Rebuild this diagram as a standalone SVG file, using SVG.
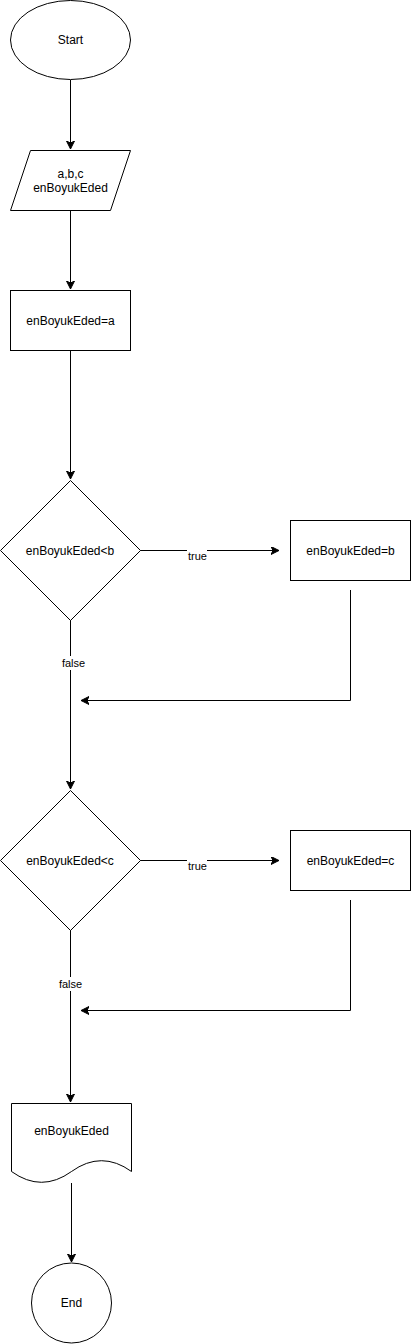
<svg xmlns="http://www.w3.org/2000/svg" width="411" height="1344" viewBox="0 0 411 1344">
<style>
.s{fill:#fff;stroke:#000;stroke-width:1}
.t{font-family:"Liberation Sans",Arial,sans-serif;font-size:12px;fill:#000;text-anchor:middle}
.l{font-family:"Liberation Sans",Arial,sans-serif;font-size:11px;fill:#000;text-anchor:middle}
.c{fill:none;stroke:#000;stroke-width:1}
</style>
<defs>
<marker id="a" markerUnits="userSpaceOnUse" markerWidth="10" markerHeight="10" refX="8" refY="4" orient="auto">
<path d="M0,0 L8,4 L0,8 L2,4 Z" fill="#000" stroke="#000" stroke-width="1"/>
</marker>
</defs>
<rect width="411" height="1344" fill="#fff"/>
<g id="connectors">
<line class="c" x1="70.5" y1="80" x2="70.5" y2="149" marker-end="url(#a)"/>
<line class="c" x1="70.5" y1="210" x2="70.5" y2="289" marker-end="url(#a)"/>
<line class="c" x1="70.5" y1="350" x2="70.5" y2="479" marker-end="url(#a)"/>
<line class="c" x1="140" y1="550.5" x2="279" y2="550.5" marker-end="url(#a)"/>
<polyline class="c" points="350.5,590 350.5,700.5 81,700.5" marker-end="url(#a)"/>
<line class="c" x1="70.5" y1="620" x2="70.5" y2="789" marker-end="url(#a)"/>
<line class="c" x1="140" y1="860.5" x2="279" y2="860.5" marker-end="url(#a)"/>
<polyline class="c" points="350.5,900 350.5,1010.5 81,1010.5" marker-end="url(#a)"/>
<line class="c" x1="70.5" y1="930" x2="70.5" y2="1102" marker-end="url(#a)"/>
<line class="c" x1="71.5" y1="1183" x2="71.5" y2="1262" marker-end="url(#a)"/>
<rect x="187" y="548" width="20" height="14" fill="#fff"/>
<text class="l" x="197.5" y="560">true</text>
<rect x="62" y="656" width="23" height="14" fill="#fff"/>
<text class="l" x="73.5" y="667">false</text>
<rect x="187" y="858" width="20" height="14" fill="#fff"/>
<text class="l" x="197.5" y="870">true</text>
<rect x="59" y="977" width="23" height="14" fill="#fff"/>
<text class="l" x="70.5" y="988">false</text>
</g>
<g id="start">
<ellipse class="s" cx="70.5" cy="40" rx="60" ry="39.5"/>
<text class="t" x="70.5" y="44">Start</text>
</g>
<g id="input">
<polygon class="s" points="30.5,150.5 130.5,150.5 110.5,210.5 10.5,210.5"/>
<text class="t" x="70.5" y="177.5">a,b,c</text>
<text class="t" x="70.5" y="192">enBoyukEded</text>
</g>
<g id="assignA">
<rect class="s" x="10.5" y="290.5" width="120" height="60"/>
<text class="t" x="70.5" y="324.5">enBoyukEded=a</text>
</g>
<g id="decisionB">
<polygon class="s" points="70.5,480.5 140.5,550.5 70.5,620.5 0.5,550.5"/>
<text class="t" x="70" y="554.5">enBoyukEded&lt;b</text>
</g>
<g id="assignB">
<rect class="s" x="290.5" y="520.5" width="120" height="60"/>
<text class="t" x="350.5" y="554.5">enBoyukEded=b</text>
</g>
<g id="decisionC">
<polygon class="s" points="70.5,790.5 140.5,860.5 70.5,930.5 0.5,860.5"/>
<text class="t" x="70" y="864.5">enBoyukEded&lt;c</text>
</g>
<g id="assignC">
<rect class="s" x="290.5" y="830.5" width="120" height="60"/>
<text class="t" x="350.5" y="864.5">enBoyukEded=c</text>
</g>
<g id="output">
<path class="s" d="M11.5,1103.5 L131.5,1103.5 L131.5,1171.5 Q101.5,1149.9 71.5,1171.5 Q41.5,1193.1 11.5,1171.5 Z"/>
<text class="t" x="71.5" y="1135">enBoyukEded</text>
</g>
<g id="end">
<circle class="s" cx="71.5" cy="1303" r="40"/>
<text class="t" x="71.5" y="1307">End</text>
</g>
</svg>
